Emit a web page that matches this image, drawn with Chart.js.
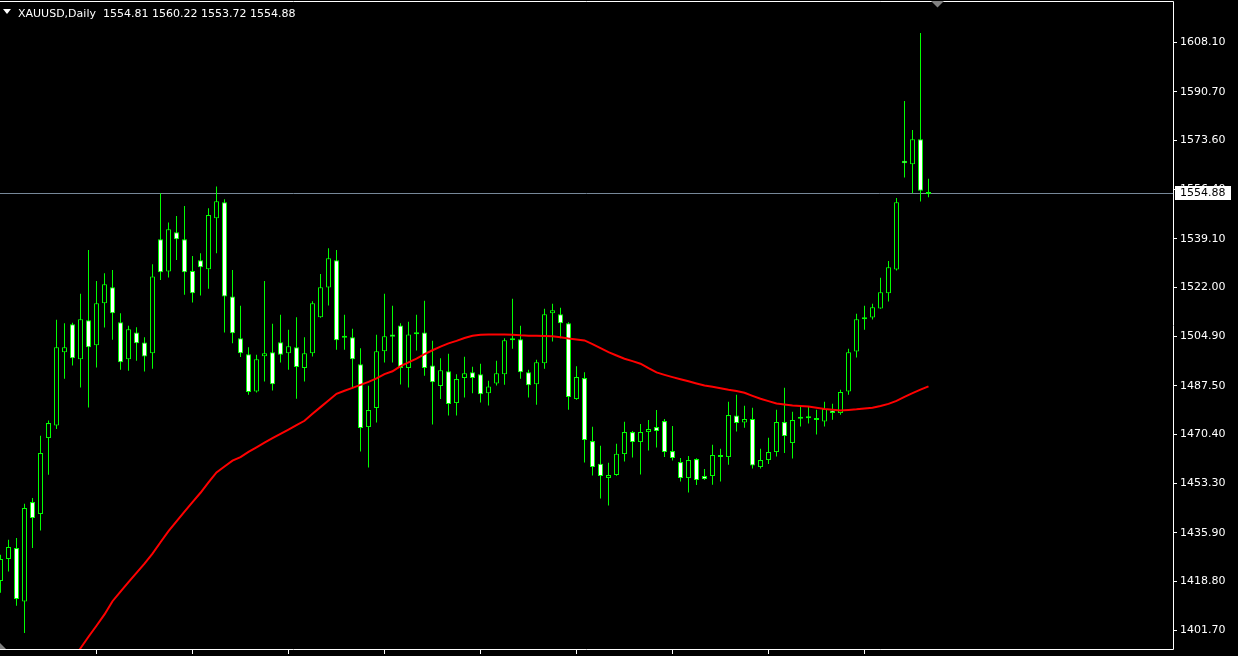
<!DOCTYPE html>
<html>
<head>
<meta charset="utf-8">
<title>XAUUSD,Daily</title>
<script src="https://cdn.jsdelivr.net/npm/chart.js@4.4.0/dist/chart.umd.min.js"></script>
<style>
  html, body { margin: 0; padding: 0; background: #000; overflow: hidden; }
  #grafico { display: block; }
</style>
</head>
<body>
<canvas id="grafico" width="1238" height="656"></canvas>
<script>
// DATOS (velas diarias, de la más antigua a la última) //
const simbolo = "XAUUSD,Daily";

const opens = [
  1419.00, 1426.72, 1430.57, 1411.84, 1446.71, 1442.50, 1469.17, 1473.59, 1499.34, 1509.16,
  1496.88, 1510.57, 1501.80, 1516.53, 1522.14, 1509.86, 1496.88, 1506.22, 1502.71, 1498.99,
  1538.98, 1527.62, 1541.44, 1538.98, 1527.86, 1531.62, 1528.46, 1546.35, 1551.97, 1518.85,
  1504.25, 1498.64, 1485.52, 1497.94, 1499.34, 1502.85, 1498.99, 1501.09, 1493.73, 1498.99,
  1511.62, 1522.00, 1531.62, 1504.36, 1504.60, 1495.13, 1473.03, 1479.69, 1499.69, 1505.51,
  1508.67, 1493.73, 1505.58, 1506.22, 1494.64, 1487.41, 1492.67, 1481.45, 1490.22, 1492.32,
  1491.62, 1484.95, 1488.32, 1491.62, 1503.55, 1503.90, 1492.32, 1488.11, 1495.48, 1513.02,
  1512.67, 1509.51, 1482.85, 1490.22, 1468.11, 1460.15, 1455.13, 1456.19, 1463.55, 1471.27,
  1467.76, 1471.27, 1473.03, 1475.13, 1464.61, 1460.75, 1455.13, 1461.80, 1455.84, 1455.84,
  1463.20, 1462.50, 1477.10, 1474.64, 1475.83, 1458.99, 1461.45, 1464.26, 1474.78, 1467.41,
  1475.97, 1476.11, 1476.18, 1474.99, 1478.85, 1477.94, 1485.52, 1499.55, 1510.85, 1511.48,
  1514.64, 1520.04, 1528.32, 1566.56, 1565.30, 1574.07, 1554.81
];
const highs = [
  1428.22, 1433.49, 1434.08, 1446.12, 1448.12, 1469.97, 1475.34, 1510.67, 1509.51, 1509.62,
  1519.79, 1535.23, 1524.35, 1527.06, 1528.21, 1513.02, 1508.57, 1508.11, 1504.60, 1530.21,
  1555.12, 1544.81, 1547.16, 1550.67, 1533.12, 1534.07, 1549.86, 1557.44, 1553.02, 1528.21,
  1515.58, 1501.09, 1498.39, 1524.35, 1509.27, 1512.43, 1507.16, 1511.62, 1504.60, 1517.23,
  1526.81, 1535.83, 1535.23, 1512.43, 1507.51, 1500.74, 1487.52, 1505.41, 1519.79, 1515.58,
  1509.51, 1509.97, 1512.43, 1517.34, 1503.30, 1497.23, 1498.74, 1491.62, 1497.69, 1494.18,
  1495.23, 1489.27, 1496.29, 1504.25, 1518.04, 1508.57, 1493.13, 1496.64, 1514.53, 1516.28,
  1514.88, 1509.86, 1494.43, 1492.32, 1473.13, 1466.47, 1460.50, 1467.17, 1474.89, 1471.62,
  1474.08, 1475.48, 1478.99, 1475.83, 1473.38, 1462.15, 1462.85, 1462.08, 1458.29, 1466.82,
  1465.41, 1481.90, 1484.36, 1480.50, 1479.80, 1465.41, 1469.27, 1479.10, 1486.81, 1478.39,
  1480.25, 1480.04, 1479.10, 1481.90, 1481.20, 1486.11, 1500.50, 1512.78, 1515.58, 1516.28,
  1525.41, 1531.37, 1553.47, 1587.51, 1577.33, 1611.36, 1560.22
];
const lows = [
  1414.89, 1422.36, 1410.33, 1400.75, 1430.57, 1436.75, 1456.29, 1472.32, 1489.97, 1494.64,
  1486.92, 1479.90, 1493.94, 1507.97, 1503.65, 1493.13, 1492.78, 1496.29, 1492.53, 1493.48,
  1524.70, 1525.51, 1531.72, 1519.44, 1516.74, 1519.20, 1521.55, 1534.07, 1506.22, 1502.50,
  1497.59, 1484.36, 1485.16, 1489.02, 1485.87, 1495.69, 1493.13, 1482.95, 1489.02, 1497.80,
  1511.37, 1515.69, 1500.15, 1500.15, 1486.71, 1464.47, 1458.85, 1474.64, 1495.69, 1495.69,
  1487.97, 1486.92, 1499.90, 1491.02, 1473.94, 1482.85, 1477.10, 1477.10, 1483.41, 1484.95,
  1481.66, 1480.60, 1487.62, 1487.87, 1500.50, 1489.97, 1483.41, 1480.85, 1493.48, 1503.06,
  1504.25, 1479.10, 1482.60, 1460.61, 1456.05, 1447.98, 1445.52, 1455.94, 1460.96, 1462.36,
  1456.40, 1464.82, 1465.87, 1462.50, 1461.31, 1453.94, 1450.08, 1452.68, 1454.43, 1452.78,
  1453.94, 1459.80, 1471.48, 1472.78, 1458.50, 1458.50, 1460.05, 1462.71, 1463.90, 1462.01,
  1473.24, 1474.29, 1470.43, 1473.24, 1475.59, 1477.34, 1484.36, 1497.44, 1507.16, 1510.78,
  1514.53, 1517.09, 1527.97, 1560.60, 1555.12, 1552.18, 1553.72
];
const closes = [
  1426.72, 1430.93, 1412.68, 1444.61, 1441.10, 1463.90, 1474.43, 1501.09, 1501.09, 1497.23,
  1510.92, 1501.09, 1516.53, 1523.20, 1513.02, 1495.83, 1507.41, 1502.50, 1497.80, 1525.86,
  1527.41, 1542.49, 1538.98, 1527.41, 1520.04, 1529.16, 1547.51, 1552.32, 1518.85, 1506.01,
  1498.99, 1485.31, 1496.88, 1498.99, 1488.11, 1498.39, 1501.44, 1494.08, 1498.99, 1516.53,
  1522.14, 1532.32, 1503.55, 1504.60, 1496.88, 1472.68, 1478.99, 1499.69, 1504.95, 1504.71,
  1493.73, 1505.51, 1505.76, 1493.73, 1488.81, 1493.02, 1481.10, 1489.87, 1491.97, 1490.22,
  1484.60, 1487.27, 1491.97, 1503.55, 1504.25, 1492.32, 1487.76, 1495.83, 1512.67, 1514.07,
  1509.51, 1483.55, 1490.57, 1468.47, 1458.99, 1455.84, 1456.19, 1463.66, 1471.27, 1467.76,
  1471.27, 1472.32, 1471.62, 1464.26, 1462.15, 1455.13, 1461.45, 1454.43, 1454.78, 1463.20,
  1462.50, 1477.24, 1474.43, 1475.83, 1459.55, 1461.45, 1464.26, 1474.78, 1469.87, 1475.48,
  1476.11, 1476.22, 1475.48, 1479.34, 1477.94, 1485.31, 1499.34, 1510.92, 1511.02, 1515.13,
  1520.39, 1529.16, 1551.97, 1565.65, 1574.07, 1556.03, 1554.88
];
// media móvil (línea roja), las primeras quedan fuera del gráfico //
const mediaMovil = [
  null, null, null, null, null, null, null, null, null, 1391.39,
  1395.39, 1399.45, 1403.31, 1407.28, 1411.91, 1415.31, 1418.58, 1421.84, 1425.14, 1428.61,
  1432.61, 1436.51, 1439.94, 1443.38, 1446.68, 1449.98, 1453.63, 1457.13, 1459.20, 1461.24,
  1462.50, 1464.33, 1465.94, 1467.55, 1469.13, 1470.68, 1472.18, 1473.73, 1475.24, 1477.69,
  1480.04, 1482.36, 1484.71, 1485.80, 1486.81, 1487.87, 1488.92, 1490.15, 1491.62, 1492.64,
  1494.43, 1495.76, 1497.09, 1498.64, 1500.01, 1501.30, 1502.43, 1503.30, 1504.29, 1505.06,
  1505.41, 1505.51, 1505.51, 1505.51, 1505.41, 1505.23, 1505.13, 1505.06, 1504.99, 1504.88,
  1504.53, 1504.11, 1503.76, 1503.44, 1502.15, 1500.71, 1499.34, 1498.15, 1497.02, 1496.18,
  1495.27, 1493.69, 1492.22, 1491.37, 1490.57, 1489.83, 1489.09, 1488.36, 1487.62, 1487.16,
  1486.67, 1486.11, 1485.69, 1485.09, 1484.01, 1482.99, 1482.15, 1481.34, 1480.95, 1480.57,
  1480.43, 1480.25, 1479.80, 1479.38, 1479.10, 1478.85, 1479.03, 1479.27, 1479.59, 1479.80,
  1480.43, 1481.17, 1482.25, 1483.66, 1484.95, 1486.18, 1487.34
];
const precioActual = 1554.88;
const ticksY = [1608.10, 1590.70, 1573.60, 1556.40, 1539.10, 1522.00, 1504.90,
  1487.50, 1470.40, 1453.30, 1435.90, 1418.80, 1401.70];

const verde = "#00ff00";
const fuente = "'DejaVu Sans', sans-serif";
const velas = opens.map((o, i) => i);

// PLUGIN: cabecera, línea de precio, marco //
const estiloMT4 = {
  id: "estiloMT4",
  beforeDatasetsDraw(chart) {
    const ctx = chart.ctx;
    const a = chart.chartArea;
    const y = Math.floor(chart.scales.y.getPixelForValue(precioActual)) + 0.5;
    ctx.save();
    ctx.strokeStyle = "#778899";
    ctx.lineWidth = 1;
    ctx.beginPath();
    ctx.moveTo(a.left, y);
    ctx.lineTo(a.right, y);
    ctx.stroke();
    ctx.restore();
  },
  afterDraw(chart) {
    const ctx = chart.ctx;
    const a = chart.chartArea;
    const x = chart.scales.x;
    ctx.save();
    // marco blanco
    ctx.strokeStyle = "#ffffff";
    ctx.lineWidth = 1;
    ctx.beginPath();
    ctx.moveTo(a.left, a.top + 0.5);
    ctx.lineTo(a.right + 0.5, a.top + 0.5);
    ctx.lineTo(a.right + 0.5, a.bottom + 0.5);
    ctx.lineTo(a.left, a.bottom + 0.5);
    ctx.stroke();
    // marcas del eje de tiempo
    ctx.beginPath();
    for (let i = 12; i <= 108; i += 12) {
      const px = Math.floor(x.getPixelForValue(i)) + 0.5;
      ctx.moveTo(px, a.bottom);
      ctx.lineTo(px, a.bottom + 5);
    }
    ctx.stroke();
    // triángulos grises
    ctx.fillStyle = "#808080";
    ctx.beginPath();
    ctx.moveTo(931, 1);
    ctx.lineTo(944, 1);
    ctx.lineTo(937.5, 7.5);
    ctx.fill();
    ctx.beginPath();
    ctx.moveTo(-6, a.bottom);
    ctx.lineTo(6, a.bottom);
    ctx.lineTo(0, a.bottom - 6);
    ctx.fill();
    // cabecera
    ctx.fillStyle = "#ffffff";
    ctx.beginPath();
    ctx.moveTo(3, 9);
    ctx.lineTo(11, 9);
    ctx.lineTo(7, 14);
    ctx.fill();
    ctx.font = "11px " + fuente;
    ctx.textBaseline = "alphabetic";
    const n = opens.length - 1;
    const texto = simbolo + "  " + opens[n].toFixed(2) + " " + highs[n].toFixed(2) + " " +
      lows[n].toFixed(2) + " " + closes[n].toFixed(2);
    ctx.fillText(texto, 18, 17);
    // etiqueta del precio actual
    const y = Math.floor(chart.scales.y.getPixelForValue(precioActual));
    ctx.fillStyle = "#ffffff";
    ctx.fillRect(a.right + 2, y - 7, 56, 14);
    ctx.fillStyle = "#000000";
    ctx.textBaseline = "middle";
    ctx.fillText(precioActual.toFixed(2), a.right + 7, y + 0.5);
    ctx.restore();
  }
};

document.addEventListener("DOMContentLoaded", function () {
  const ctx = document.getElementById("grafico").getContext("2d");
  new Chart(ctx, {
    type: "bar",
    data: {
      datasets: [
        {
          type: "line",
          label: "MA",
          data: velas.map((i) => ({ x: i, y: mediaMovil[i] })),
          borderColor: "#ff0000",
          borderWidth: 2,
          pointRadius: 0,
          tension: 0,
          spanGaps: false,
        },
        {
          label: "cuerpos",
          data: velas.map((i) => ({ x: i, y: [opens[i], closes[i]] })),
          backgroundColor: velas.map((i) => (closes[i] >= opens[i] ? "#000000" : "#ffffff")),
          borderColor: verde,
          borderWidth: 1,
          borderSkipped: false,
          barThickness: 5,
          minBarLength: 2,
          grouped: false,
          inflateAmount: 0,
        },
        {
          label: "mechas",
          data: velas.map((i) => ({ x: i, y: [lows[i], highs[i]] })),
          backgroundColor: verde,
          borderWidth: 0,
          barThickness: 1,
          grouped: false,
          inflateAmount: 0,
        },
      ],
    },
    options: {
      responsive: false,
      animation: false,
      devicePixelRatio: 1,
      events: [],
      layout: { padding: { left: 0, top: 1, right: 0, bottom: 7 } },
      plugins: { legend: { display: false }, tooltip: { enabled: false } },
      scales: {
        x: {
          type: "linear",
          display: false,
          offset: false,
          min: -0.0625,
          max: 146.5625,
        },
        y: {
          position: "right",
          min: 1395.14,
          max: 1622.59,
          afterFit: (scale) => {
            scale.width = 65;
            scale.paddingTop = 0;
            scale.paddingBottom = 0;
          },
          afterBuildTicks: (scale) => { scale.ticks = ticksY.map((v) => ({ value: v })); },
          border: { display: false },
          grid: {
            drawOnChartArea: false,
            drawTicks: true,
            tickLength: 4,
            color: "#ffffff",
          },
          ticks: {
            color: "#ffffff",
            padding: 3,
            font: { family: fuente, size: 11 },
            callback: (v) => Number(v).toFixed(2),
          },
        },
      },
    },
    plugins: [estiloMT4],
  });
});
</script>
</body>
</html>
